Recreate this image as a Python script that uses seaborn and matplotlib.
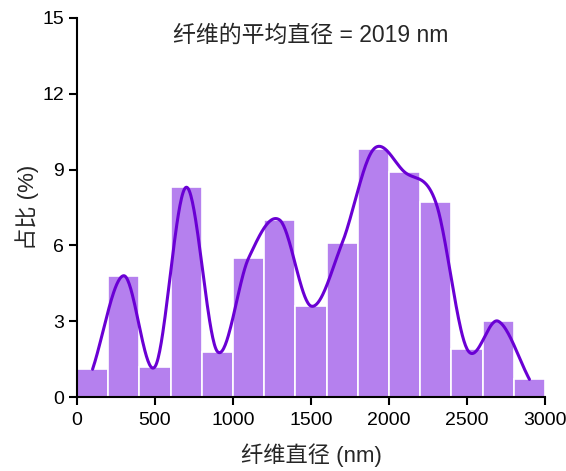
import numpy as np
import pandas as pd
import matplotlib
matplotlib.use("Agg")
import matplotlib.pyplot as plt
import seaborn as sns

# 纤维直径分布 (bin 宽 200 nm)
bin_edges = [0, 200, 400, 600, 800, 1000, 1200, 1400, 1600, 1800, 2000, 2200, 2400, 2600, 2800, 3000]
percent = [1.1, 4.8, 1.2, 8.3, 1.8, 5.5, 7.0, 3.6, 6.1, 9.8, 8.9, 7.7, 1.9, 3.0, 0.7]
x_ticks = [0, 500, 1000, 1500, 2000, 2500, 3000]
y_ticks = [0, 3, 6, 9, 12, 15]
title_text = "纤维的平均直径 = 2019 nm"

bar_color = "#b580ee"
line_color = "#6a00d4"


def smooth_curve(x, y, n_per=40):
    # Catmull-Rom 平滑曲线,穿过每个柱子中心
    x = np.asarray(x, float)
    y = np.asarray(y, float)
    m = np.empty_like(y)
    m[1:-1] = (y[2:] - y[:-2]) / (x[2:] - x[:-2])
    m[0] = (y[1] - y[0]) / (x[1] - x[0])
    m[-1] = (y[-1] - y[-2]) / (x[-1] - x[-2])
    xs, ys = [], []
    for i in range(len(x) - 1):
        h = x[i + 1] - x[i]
        t = np.linspace(0, 1, n_per, endpoint=False)
        h00 = 2 * t**3 - 3 * t**2 + 1
        h10 = t**3 - 2 * t**2 + t
        h01 = -2 * t**3 + 3 * t**2
        h11 = t**3 - t**2
        xs.append(x[i] + t * h)
        ys.append(h00 * y[i] + h10 * h * m[i] + h01 * y[i + 1] + h11 * h * m[i + 1])
    xs.append([x[-1]])
    ys.append([y[-1]])
    return np.concatenate(xs), np.concatenate(ys)


sns.set_style("ticks")
plt.rcParams["font.family"] = ["Liberation Sans", "Noto Sans CJK SC", "DejaVu Sans"]

edges = np.array(bin_edges, float)
centers = (edges[:-1] + edges[1:]) / 2
df = pd.DataFrame({"diameter": centers, "percent": percent})

fig = plt.figure(figsize=(5.66, 4.71), dpi=100)
ax = fig.add_axes([0.136, 0.157, 0.827, 0.805])

sns.histplot(data=df, x="diameter", weights="percent", bins=bin_edges,
             color=bar_color, alpha=1, edgecolor="white", linewidth=1.2, ax=ax)

cx, cy = smooth_curve(centers, percent)
sns.lineplot(x=cx, y=cy, color=line_color, linewidth=2.2, sort=False, ax=ax)

ax.set_xlim(0, 3000)
ax.set_ylim(0, 15)
ax.set_xticks(x_ticks)
ax.set_yticks(y_ticks)
ax.tick_params(labelsize=14, width=1.5, length=6, color="black", labelcolor="black")
ax.tick_params(axis="x", pad=5)
for side in ["left", "bottom"]:
    ax.spines[side].set_linewidth(1.5)
    ax.spines[side].set_color("black")
sns.despine(ax=ax)

ax.set_xlabel("纤维直径 (nm)", fontsize=16, labelpad=10)
ax.set_ylabel("占比 (%)", fontsize=16, labelpad=2)
ax.text(0.5, 0.985, title_text, transform=ax.transAxes, ha="center", va="top", fontsize=16.5)

fig.savefig("out.png", dpi=100)
